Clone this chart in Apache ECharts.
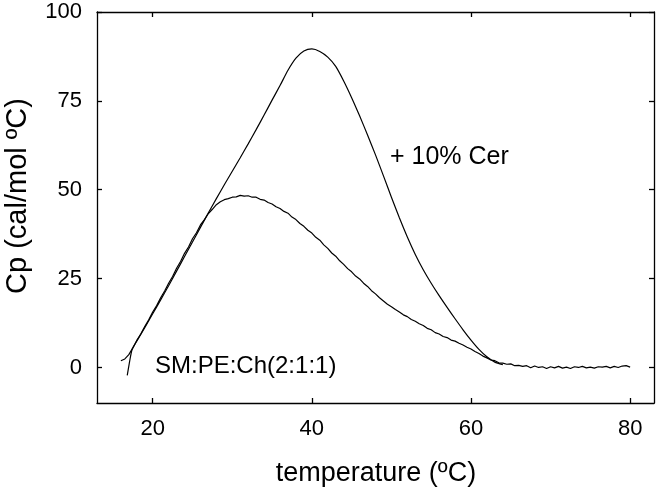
<!DOCTYPE html>
<html>
<head>
<meta charset="utf-8">
<script src="https://cdn.jsdelivr.net/npm/echarts@6/dist/echarts.min.js"></script>
<style>
html,body{margin:0;padding:0;background:#fff;}
#chart{width:657px;height:489px;}
</style>
</head>
<body>
<div id="chart"></div>
<script>
// ---- data ----
var xTicks = [20, 40, 60, 80];
var yTicks = [0, 25, 50, 75, 100];

// SM:PE:Ch(2:1:1) (noisy trace)
var smX = [16.0,16.5,17.0,17.5,18.0,18.5,19.0,19.5,20.0,20.5,21.0,21.5,22.0,22.5,23.0,23.5,24.0,24.5,25.0,25.5,
  26.0,26.5,27.0,27.5,28.0,28.5,29.0,29.5,30.0,30.5,31.0,31.5,32.0,32.5,33.0,33.5,34.0,34.5,35.0,35.5,
  36.0,36.5,37.0,37.5,38.0,38.5,39.0,39.5,40.0,40.5,41.0,41.5,42.0,42.5,43.0,43.5,44.0,44.5,45.0,45.5,
  46.0,46.5,47.0,47.5,48.0,48.5,49.0,49.5,50.0,50.5,51.0,51.5,52.0,52.5,53.0,53.5,54.0,54.5,55.0,55.5,
  56.0,56.5,57.0,57.5,58.0,58.5,59.0,59.5,60.0,60.5,61.0,61.5,62.0,62.5,63.0,63.5,64.0,64.5,65.0,65.5,
  66.0,66.5,67.0,67.5,68.0,68.5,69.0,69.5,70.0,70.5,71.0,71.5,72.0,72.5,73.0,73.5,74.0,74.5,75.0,75.5,
  76.0,76.5,77.0,77.5,78.0,78.5,79.0,79.5,80.0];
var smY = [1.9,2.4,3.6,5.5,7.6,9.4,11.5,13.4,15.6,17.4,19.6,21.5,23.7,25.6,27.9,29.8,32.1,33.9,36.2,37.9,
  40.1,41.6,43.3,44.5,45.8,46.6,47.2,47.5,47.9,48.0,48.4,48.2,48.3,47.9,47.9,47.3,47.1,46.4,46.0,45.2,
  44.7,43.9,43.4,42.3,41.6,40.5,39.7,38.6,37.8,36.6,35.8,34.5,33.5,32.2,31.3,30.0,29.0,27.8,26.9,25.7,
  24.9,23.7,22.8,21.6,20.7,19.6,18.7,17.8,17.1,16.3,15.6,14.8,14.3,13.5,13.0,12.3,11.8,11.0,10.6,9.8,
  9.4,8.7,8.4,7.7,7.4,6.8,6.3,5.7,5.2,4.5,3.9,3.2,2.7,2.1,1.9,1.3,1.2,0.9,1.0,0.5,
  0.6,0.3,0.5,-0.1,0.4,0.0,0.2,-0.3,0.2,-0.1,0.3,-0.2,0.1,-0.3,0.2,0.0,0.3,-0.1,0.1,-0.2,
  0.2,0.1,0.3,-0.1,0.3,0.0,0.4,0.5,0.1];

// + 10% Cer (smooth trace)
var cerX = [16.8,17.1,17.4,18,19,20,21,22,23,24,25,26,27,28,29,30,31,32,33,34,35,36,37,38,39,40,
  41,42,43,44,45,46,47,48,49,50,51,52,53,54,55,56,57,58,59,60,61,62,63,64];
var cerY = [-2.2,1.7,5.0,7.4,11.2,15.1,19.0,23.0,27.1,31.2,35.3,39.4,43.5,47.5,51.4,55.2,59.0,62.9,66.9,71.0,75.2,79.3,83.6,87.0,89.0,89.6,
  88.9,87.3,84.7,80.6,75.9,70.8,65.4,59.8,53.9,47.9,42.1,36.7,31.8,27.5,23.7,20.2,16.9,13.7,10.6,7.7,5.1,3.0,1.5,0.8];

var xTitle = 'temperature (ºC)';
var yTitle = 'Cp (cal/mol ºC)';
var smLabel = 'SM:PE:Ch(2:1:1)';
var cerLabel = '+ 10% Cer';

function pairs(xs, ys){ var out=[]; for (var i=0;i<xs.length;i++) out.push([xs[i], ys[i]]); return out; }

var FONT = 'Liberation Sans, Arial, sans-serif';
var axisLineStyle = {color:'#000', width:1.3};

var chart = echarts.init(document.getElementById('chart'), null, {renderer:'canvas'});
chart.setOption({
  animation:false,
  backgroundColor:'#fff',
  grid:{left:97, right:3, top:12, bottom:86, containLabel:false},
  xAxis:[{
    type:'value', min:13, max:83, position:'bottom',
    axisLine:{show:true, onZero:false, lineStyle:axisLineStyle},
    axisTick:{show:true, inside:true, length:5, lineStyle:axisLineStyle, customValues:xTicks},
    axisLabel:{show:true, margin:15, color:'#000', fontSize:22, fontFamily:FONT, customValues:xTicks},
    splitLine:{show:false}
  },{
    type:'value', min:13, max:83, position:'top',
    axisLine:{show:true, onZero:false, lineStyle:axisLineStyle},
    axisTick:{show:true, inside:true, length:5, lineStyle:axisLineStyle, customValues:xTicks},
    axisLabel:{show:false},
    splitLine:{show:false}
  }],
  yAxis:[{
    type:'value', min:-10, max:100, position:'left',
    axisLine:{show:true, onZero:false, lineStyle:axisLineStyle},
    axisTick:{show:true, inside:true, length:5, lineStyle:axisLineStyle, customValues:yTicks},
    axisLabel:{show:true, margin:15, color:'#000', fontSize:22, fontFamily:FONT, customValues:yTicks},
    splitLine:{show:false}
  },{
    type:'value', min:-10, max:100, position:'right',
    axisLine:{show:true, onZero:false, lineStyle:axisLineStyle},
    axisTick:{show:true, inside:true, length:5, lineStyle:axisLineStyle, customValues:yTicks},
    axisLabel:{show:false},
    splitLine:{show:false}
  }],
  series:[{
    name:smLabel, type:'line', xAxisIndex:0, yAxisIndex:0,
    data:pairs(smX, smY), showSymbol:false, symbol:'none',
    lineStyle:{color:'#000', width:1.2}, z:3
  },{
    name:cerLabel, type:'line', xAxisIndex:0, yAxisIndex:0,
    data:pairs(cerX, cerY), showSymbol:false, symbol:'none', smooth:0.2,
    lineStyle:{color:'#000', width:1.2}, z:3
  }],
  graphic:[
    {type:'text', style:{text:xTitle, font:'27px '+FONT, fill:'#000', textAlign:'center', textVerticalAlign:'middle'}, position:[376,474]},
    {type:'text', style:{text:yTitle, font:'29px '+FONT, fill:'#000', textAlign:'center', textVerticalAlign:'middle'}, position:[18,196], rotation:Math.PI/2},
    {type:'text', style:{text:smLabel, font:'24px '+FONT, fill:'#000', textAlign:'left', textVerticalAlign:'middle'}, position:[155,366]},
    {type:'text', style:{text:cerLabel, font:'25px '+FONT, fill:'#000', textAlign:'left', textVerticalAlign:'middle'}, position:[390,157]}
  ]
});
</script>
</body>
</html>
